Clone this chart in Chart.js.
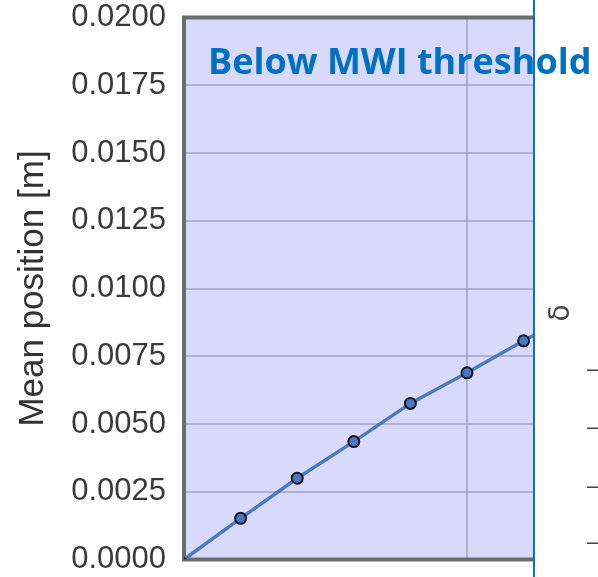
<!DOCTYPE html>
<html>
<head>
<meta charset="utf-8">
<script src="https://cdn.jsdelivr.net/npm/chart.js@4/dist/chart.umd.min.js"></script>
<style>
  html, body { margin: 0; padding: 0; background: #fff; overflow: hidden; }
  #wrap { position: absolute; left: 0; top: 0; width: 616px; height: 577px; }
</style>
</head>
<body>
<div id="wrap"><canvas id="chart"></canvas></div>
<script>
// Drive level (x) and resulting mean position of the body
const drive = [0, 0.1, 0.2, 0.3, 0.4, 0.5, 0.6, 0.7];
const meanPosition = [0, 0.00152, 0.00300, 0.00435, 0.00576, 0.00689, 0.00807, 0.00920];

// Axis ticks
const yTicks = [0, 0.0025, 0.005, 0.0075, 0.01, 0.0125, 0.015, 0.0175, 0.02];
const xGrid = [0, 0.5];

// Texts
const regimeLabel = 'Below MWI threshold';
const yTitle = 'Mean position [m]';
const sideLabel = 'δ';
const sideTickMarks = ['–', '–', '–', '–'];

// Lavender plot area + grey frame around it
const plotFrame = {
    id: 'plotFrame',
    beforeDraw(chart) {
        const { ctx, chartArea: a } = chart;
        ctx.save();
        ctx.fillStyle = '#d9d9fb';
        ctx.fillRect(a.left, a.top, a.right - a.left, a.bottom - a.top);
        ctx.restore();
    },
    beforeDatasetsDraw(chart) {
        const { ctx, chartArea: a } = chart;
        ctx.save();
        ctx.strokeStyle = '#6c6c6c';
        ctx.lineWidth = 4;
        ctx.strokeRect(a.left, a.top, a.right - a.left, a.bottom - a.top);
        ctx.restore();
    }
};

// White neighbouring panel on the right, caption and divider
const sidePanel = {
    id: 'sidePanel',
    afterDraw(chart) {
        const { ctx, width, height } = chart;
        const x0 = 534;
        ctx.save();
        ctx.fillStyle = '#ffffff';
        ctx.fillRect(x0, 0, width - x0, height);

        // caption
        ctx.font = 'bold 36px "Open Sans"';
        ctx.fillStyle = '#0070c0';
        ctx.textBaseline = 'alphabetic';
        ctx.textAlign = 'left';
        ctx.fillText(regimeLabel, 208, 74);

        // divider
        ctx.strokeStyle = '#0a72c8';
        ctx.lineWidth = 2;
        ctx.beginPath();
        ctx.moveTo(x0, 0);
        ctx.lineTo(x0, height);
        ctx.stroke();

        // axis label of the next panel
        ctx.fillStyle = '#444';
        ctx.font = '28px "DejaVu Sans"';
        ctx.textAlign = 'center';
        ctx.textBaseline = 'middle';
        ctx.save();
        ctx.translate(562, 313);
        ctx.rotate(-Math.PI / 2);
        ctx.fillText(sideLabel, 0, 0);
        ctx.restore();

        // its tick marks
        ctx.font = '22px "Liberation Sans"';
        ctx.textAlign = 'left';
        const markY = [370, 428, 487, 543];
        sideTickMarks.forEach((m, i) => ctx.fillText(m, 587, markY[i]));
        ctx.restore();
    }
};

const ctx = document.getElementById('chart').getContext('2d');

new Chart(ctx, {
    type: 'line',
    data: {
        datasets: [{
            data: drive.map((x, i) => ({ x, y: meanPosition[i] })),
            borderColor: '#4a7bbd',
            borderWidth: 3.5,
            pointRadius: drive.map((x, i) => (i === 0 ? 1.5 : 5.5)),
            pointBackgroundColor: '#4a78c2',
            pointBorderColor: '#16161f',
            pointBorderWidth: 2,
            tension: 0
        }]
    },
    options: {
        responsive: true,
        maintainAspectRatio: false,
        animation: false,
        layout: { padding: 0 },
        plugins: {
            legend: { display: false },
            tooltip: { enabled: false }
        },
        scales: {
            x: {
                type: 'linear',
                min: 0,
                max: 0.75,
                afterBuildTicks(scale) { scale.ticks = xGrid.map(v => ({ value: v })); },
                ticks: { display: false },
                grid: { color: 'rgba(140,140,185,0.55)', lineWidth: 2, drawTicks: false },
                border: { display: false }
            },
            y: {
                min: 0,
                max: 0.02,
                afterFit(scale) {
                    scale.width = 184;
                    // keep the plot box at 17.5px from top and bottom edges
                    scale.paddingTop = 17.5;
                    scale.paddingBottom = 17.5;
                },
                afterBuildTicks(scale) { scale.ticks = yTicks.map(v => ({ value: v })); },
                ticks: {
                    padding: 18,
                    color: '#3a3a3a',
                    font: { family: 'Liberation Sans', size: 31 },
                    callback: v => v.toFixed(4)
                },
                grid: { color: 'rgba(140,140,185,0.55)', lineWidth: 2, drawTicks: false },
                border: { display: false },
                title: {
                    display: true,
                    text: yTitle,
                    color: '#333',
                    font: { family: 'Liberation Sans', size: 35 },
                    padding: { top: 12, bottom: 0 }
                }
            }
        }
    },
    plugins: [plotFrame, sidePanel]
});
</script>
</body>
</html>
